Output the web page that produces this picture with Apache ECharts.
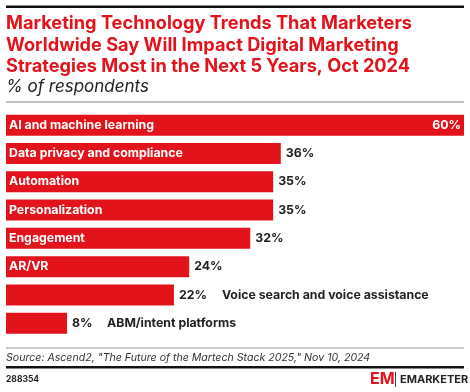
<!DOCTYPE html>
<html><head><meta charset="utf-8">
<script src="https://cdn.jsdelivr.net/npm/echarts@6/dist/echarts.min.js"></script>
<style>html,body{margin:0;padding:0;background:#fff}#c{width:470px;height:392px}</style>
</head><body><div id="c"></div>
<script>
const categories = ["AI and machine learning","Data privacy and compliance","Automation","Personalization","Engagement","AR/VR","Voice search and voice assistance","ABM/intent platforms"];
const values = [60,36,35,35,32,24,22,8];
const outsideNames = [false,false,false,false,false,false,true,true];
const xMax = 60;

const RED = '#E3131B';
const FONT = 'Inter, Roboto, sans-serif';
const LFS = 12.3;

const chart = echarts.init(document.getElementById('c'));

const mainData = values.map((v,i)=>{
  const d = {value:v, name:categories[i]};
  if (outsideNames[i]) {
    d.label = {show:true, position:'right', distance:5,
      formatter: '{v|'+v+'%}{n|'+categories[i]+'}',
      rich:{v:{fontFamily:FONT,fontWeight:'bold',fontSize:LFS,color:'#222',width:v<10?35:43},
            n:{fontFamily:FONT,fontWeight:'bold',fontSize:LFS,color:'#222'}}};
  } else {
    d.label = {show:true, position:'insideLeft', distance:3, formatter:categories[i],
      fontFamily:FONT, fontWeight:'bold', fontSize:LFS, color:'#fff'};
  }
  return d;
});
const valData = values.map((v,i)=>{
  const d = {value:v};
  if (outsideNames[i]) d.label = {show:false};
  else if (v >= xMax) d.label = {show:true, position:'insideRight', distance:3, color:'#fff', formatter:v+'%', fontFamily:FONT, fontWeight:'bold', fontSize:LFS};
  else d.label = {show:true, position:'right', distance:5, color:'#222', formatter:v+'%', fontFamily:FONT, fontWeight:'bold', fontSize:LFS};
  return d;
});

chart.setOption({
  animation:false,
  grid:{left:6, right:6, top:111, height:226.4, containLabel:false},
  xAxis:{type:'value', min:0, max:xMax, show:false},
  yAxis:{type:'category', data:categories, inverse:true, show:false},
  series:[
    {type:'bar', data:mainData, barWidth:21, itemStyle:{color:RED}, z:2},
    {type:'bar', data:valData, barWidth:21, barGap:'-100%', itemStyle:{color:'rgba(0,0,0,0)'}, z:3}
  ],
  graphic:[
    {type:'rect', shape:{x:6,y:5.5,width:458,height:2.5}, style:{fill:'#111'}},
    {type:'text', left:6, top:13, style:{text:'Marketing Technology Trends That Marketers\nWorldwide Say Will Impact Digital Marketing\nStrategies Most in the Next 5 Years, Oct 2024', fill:RED, font:'bold 18.2px '+FONT, lineHeight:21.5}},
    {type:'text', left:6, top:78, style:{text:'% of respondents', fill:'#222', font:'italic 17px '+FONT}},
    {type:'rect', shape:{x:6,y:101.5,width:458,height:1}, style:{fill:'#888'}},
    {type:'rect', shape:{x:6,y:347.5,width:458,height:1}, style:{fill:'#999'}},
    {type:'text', left:6, top:352, style:{text:'Source: Ascend2, "The Future of the Martech Stack 2025," Nov 10, 2024', fill:'#333', font:'italic 10.6px '+FONT}},
    {type:'rect', shape:{x:6,y:366,width:458,height:2.5}, style:{fill:'#111'}},
    {type:'text', left:6, top:375, style:{text:'288354', fill:'#222', font:'bold 8.5px '+FONT}},
    {type:'text', left:370, top:371, style:{text:'EM', fill:RED, font:'bold 16px '+FONT}},
    {type:'rect', shape:{x:395,y:372,width:1,height:15}, style:{fill:'#444'}},
    {type:'text', left:400, top:374, style:{text:'EMARKETER', fill:'#222', font:'bold 11px '+FONT}}
  ]
});
</script></body></html>
